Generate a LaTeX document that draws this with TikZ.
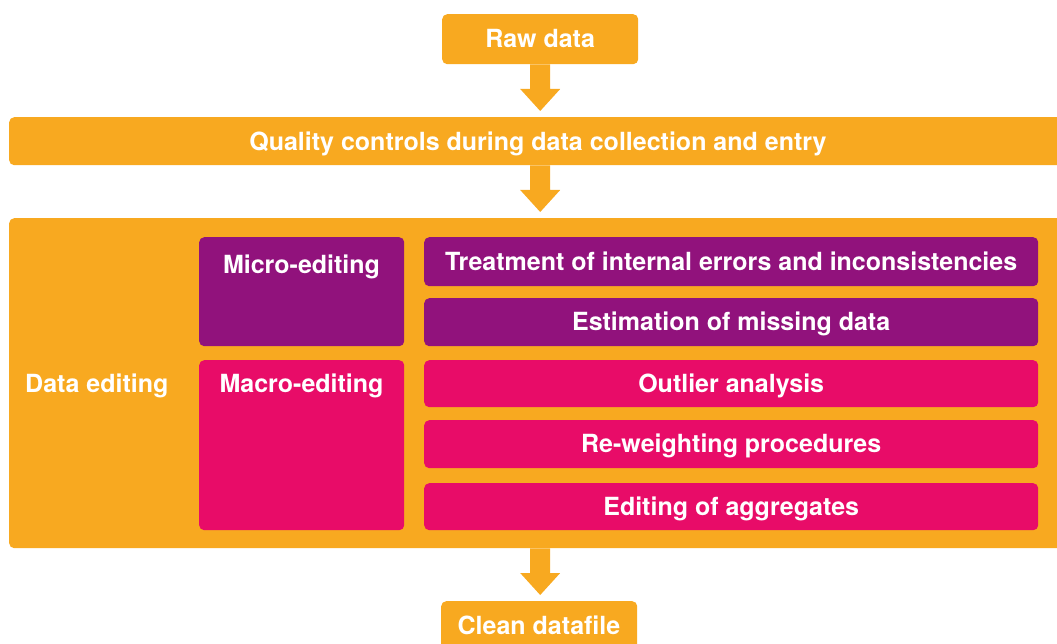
\documentclass[tikz,border=0pt]{standalone}
\usepackage{fontspec}
\setmainfont{TeX Gyre Heros}
\usetikzlibrary{calc}
\definecolor{orng}{RGB}{248,169,32}
\definecolor{purp}{RGB}{145,18,124}
\definecolor{pink}{RGB}{232,12,104}
\begin{document}
\begin{tikzpicture}[x=1pt,y=-1pt,
  lbl/.style={font=\bfseries\fontsize{25}{28}\selectfont, text=white, text height=18pt, text depth=1pt},
  obox/.style={fill=orng, rounded corners=5pt, inner sep=0pt, anchor=north west},
  pbox/.style={fill=purp, rounded corners=5pt, inner sep=0pt, anchor=north west},
  kbox/.style={fill=pink, rounded corners=5pt, inner sep=0pt, anchor=north west}]
\useasboundingbox (0,0) rectangle (1057,644);
\clip (0,0) rectangle (1057,644);
% main boxes
\node[obox, lbl, minimum width=196pt, minimum height=50pt] (raw) at (442,14) {Raw data};
\node[obox, minimum width=1060pt, minimum height=48pt] (qual) at (9,117) {};
\node[lbl, inner sep=0pt] (qtext) at (538,142) {Quality controls during data collection and entry};
\node[obox, minimum width=1060pt, minimum height=330pt] (edit) at (9,218) {};
\node[lbl, anchor=west, inner sep=0pt] (dedit) at (25,384) {Data editing};
\node[obox, minimum width=196pt, minimum height=60pt] (clean) at (441,601) {};
\node[lbl, inner sep=0pt] (ctext) at (539,626) {Clean datafile};
% micro
\node[pbox, minimum width=205pt, minimum height=109pt] (micro) at (199,237) {};
\node[lbl, inner sep=0pt] (mitext) at (301.5,265) {Micro-editing};
\node[pbox, lbl, minimum width=614pt, minimum height=49pt] (treat) at (424,237) {Treatment of internal errors and inconsistencies};
\node[pbox, lbl, minimum width=614pt, minimum height=48pt] (est) at (424,298) {Estimation of missing data};
% macro
\node[kbox, minimum width=205pt, minimum height=170pt] (macro) at (199,360) {};
\node[lbl, inner sep=0pt] (matext) at (301.5,384) {Macro-editing};
\node[kbox, lbl, minimum width=614pt, minimum height=47pt] (outl) at (424,360) {Outlier analysis};
\node[kbox, lbl, minimum width=614pt, minimum height=48pt] (rew) at (424,420) {Re-weighting procedures};
\node[kbox, lbl, minimum width=614pt, minimum height=47pt] (agg) at (424,483) {Editing of aggregates};
% arrows
\newcommand{\blockarrow}[2]{%
  \fill[orng] ($(#1.south -| raw.south)+(-10,0)$)
    -- ($(raw.south |- #2.north)+(-10,-28)$)
    -- ($(raw.south |- #2.north)+(-20,-28)$)
    -- ($(raw.south |- #2.north)+(0,-6)$)
    -- ($(raw.south |- #2.north)+(20,-28)$)
    -- ($(raw.south |- #2.north)+(10,-28)$)
    -- ($(#1.south -| raw.south)+(10,0)$) -- cycle;}
\blockarrow{raw}{qual}
\blockarrow{qual}{edit}
\blockarrow{edit}{clean}
\end{tikzpicture}
\end{document}
